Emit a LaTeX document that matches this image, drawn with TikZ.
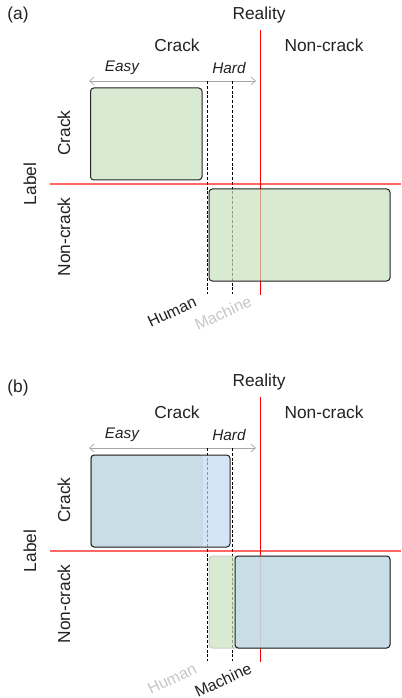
\documentclass[tikz,border=0pt]{standalone}
\usepackage{fontspec}
\setmainfont{Liberation Sans}
\usetikzlibrary{arrows.meta}
\definecolor{boxgreen}{RGB}{201,225,192}
\definecolor{boxblue}{RGB}{194,216,239}
\definecolor{txt}{RGB}{34,34,34}
\begin{document}
\begin{tikzpicture}[x=0.75pt,y=-0.75pt]
			\tikzstyle{lbl}=[text=txt,inner sep=0pt,font=\fontsize{13}{15}\selectfont]
			\tikzstyle{side}=[lbl,rotate=90]
			\tikzstyle{lvl}=[lbl,font=\itshape\fontsize{11.5}{13}\selectfont]
			\tikzstyle{who}=[inner sep=0pt,rotate=25,font=\fontsize{12}{14}\selectfont]
			\tikzstyle{cut}=[line width=0.55pt,dash pattern=on 2.2pt off 1.4pt]
			\tikzstyle{greenbox}=[fill=boxgreen,fill opacity=0.7,draw=txt,line width=0.75pt,rounded corners=2.5pt]
			\tikzstyle{bluebox}=[greenbox,fill=boxblue]
			\useasboundingbox (0,0) rectangle (401,698);
			\foreach \off/\p/\ty/\hc/\mc in {0/a/15/txt/gray!45,367/b/21/gray!45/txt}
			{
				\begin{scope}[shift={(0,\off)}]
					% headings
					\node[lbl] (tag\p) at (18,\ty) {(\p)};
					\node[lbl] (reality\p) at (259,15) {Reality};
					\node[lbl] (crack\p) at (177,45) {Crack};
					\node[lbl] (noncrack\p) at (324,45) {Non-crack};
					\node[lvl] (easy\p) at (122,68) {Easy};
					\node[lvl] (hard\p) at (229,68) {Hard};
					\node[side] (lcrack\p) at (64,133) {Crack};
					\node[side] (lnoncrack\p) at (64,237) {Non-crack};
					\node[side] (label\p) at (30,184) {Label};
					\node[who,text=\hc] (human\p) at (172,312) {Human};
					\node[who,text=\mc] (machine\p) at (223,313) {Machine};
					% lines
					\coordinate (west\p) at (89,81);
					\coordinate (east\p) at (256,81);
					\coordinate (htop\p) at (207,81);
					\coordinate (hbot\p) at (207,294);
					\coordinate (mtop\p) at (232,81);
					\coordinate (mbot\p) at (232,294);
					\coordinate (rtop\p) at (260,30);
					\coordinate (rbot\p) at (260,295);
					\coordinate (lleft\p) at (50,184);
					\coordinate (lright\p) at (401,184);
					\draw[gray!70,line width=0.5pt,{Straight Barb[length=3.5pt,width=6pt]}-{Straight Barb[length=3.5pt,width=6pt]}] (west\p) -- (east\p);
					\draw[cut] (htop\p) -- (hbot\p);
					\draw[cut] (mtop\p) -- (mbot\p);
					\draw[red,line width=0.6pt] (rtop\p) -- (rbot\p);
					\draw[red,opacity=0.6,line width=1.3pt] (lleft\p) -- (lright\p);
					% boxes
					\ifnum\off=0
					\draw[greenbox] (90.5,88) rectangle (202,180);
					\draw[greenbox] (209,189) rectangle (390,281);
					\else
					\draw[greenbox,draw=gray!40] (90.5,88) rectangle (202,180);
					\draw[greenbox,draw=gray!40] (209,189) rectangle (390,281);
					\draw[bluebox] (91,88) rectangle (230,180);
					\draw[bluebox] (235,189) rectangle (390,281);
					\fi
				\end{scope}
			}
\end{tikzpicture}
\end{document}
